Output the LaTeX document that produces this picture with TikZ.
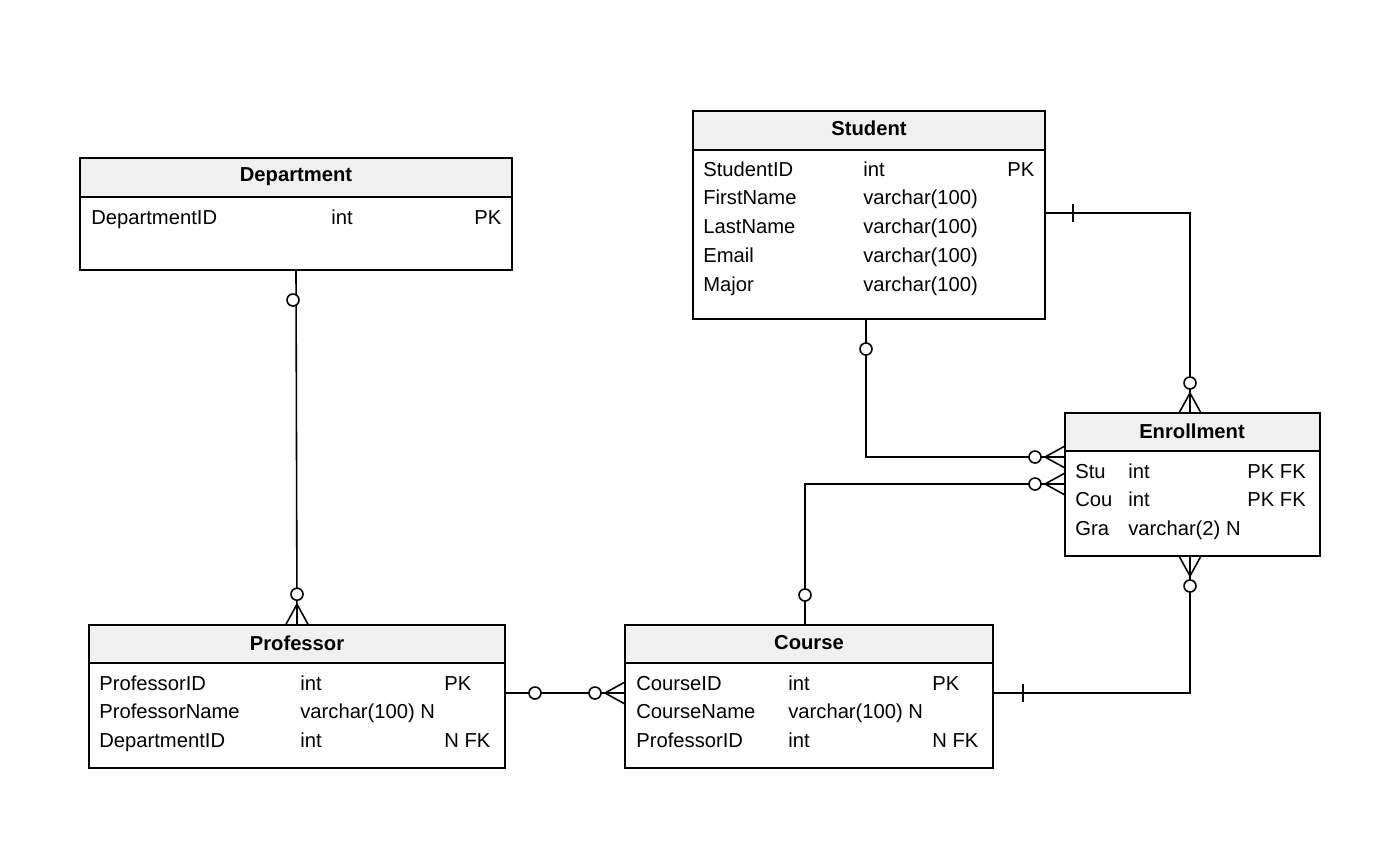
\documentclass[tikz,border=0pt]{standalone}
\usepackage{fontspec}
\setmainfont{Liberation Sans}
\usetikzlibrary{positioning}

\tikzset{
	tbl/.style={draw=black, fill=white, line width=0.9pt, inner sep=0pt},
	hdr/.style={draw=black, fill=gray!12, line width=0.9pt},
	ttl/.style={font=\fontsize{11.5}{13}\selectfont\bfseries},
	cell/.style={anchor=base west, inner sep=0pt, font=\fontsize{11.5}{13}\selectfont},
	link/.style={line width=0.9pt},
	pics/crow/.style={code={
		\draw[link] (0,-20) -- (-11,0) (0,-20) -- (0,0) (0,-20) -- (11,0);
		\draw[link, fill=white] (0,-30) circle (6);
	}},
	pics/ring/.style={code={\draw[link, fill=white] (0,0) circle (6);}},
	pics/bar/.style={code={\draw[link] (0,-9) -- (0,9);}}
}

\begin{document}
\begin{tikzpicture}[x=0.02cm, y=-0.02cm]
			\useasboundingbox (0,0) rectangle (1392,846);
			% Tables
			\node[tbl, minimum width=432*0.02cm, minimum height=112*0.02cm] (dept) at (296,214) {};
			\draw[hdr] (80,158) rectangle (512,197);
			\node[ttl] at (296,177) {Department};
			\node[cell] at (91,224) {DepartmentID};
			\node[cell] at (331,224) {int};
			\node[cell] at (474,224) {PK};

			\node[tbl, minimum width=352*0.02cm, minimum height=208*0.02cm] (stud) at (869,215) {};
			\draw[hdr] (693,111) rectangle (1045,150);
			\node[ttl] at (869,128) {Student};
			\foreach \n/\t/\k [count=\i from 0] in {StudentID/int/PK, FirstName/varchar(100)/N, LastName/varchar(100)/N, Email/varchar(100)/N, Major/varchar(100)/N}{
				\node[cell] at (703,176+28.8*\i) {\n};
				\node[cell] at (863,176+28.8*\i) {\t};
			}
			\node[cell] at (1007,176) {PK};

			\node[tbl, minimum width=255*0.02cm, minimum height=143*0.02cm] (enr) at (1192.5,484.5) {};
			\draw[hdr] (1065,413) rectangle (1320,451);
			\node[ttl] at (1192,431) {Enrollment};
			\node[cell] at (1075,478) {Stu};
			\node[cell] at (1128,478) {int};
			\node[cell] at (1247,478) {PK FK};
			\node[cell] at (1075,506) {Cou};
			\node[cell] at (1128,506) {int};
			\node[cell] at (1247,506) {PK FK};
			\node[cell] at (1075,535) {Gra};
			\node[cell] at (1128,535) {varchar(2) N};

			\node[tbl, minimum width=416*0.02cm, minimum height=143*0.02cm] (prof) at (297,696.5) {};
			\draw[hdr] (89,625) rectangle (505,663);
			\node[ttl] at (297,643) {Professor};
			\foreach \n/\t/\k [count=\i from 0] in {ProfessorID/int/PK, ProfessorName/varchar(100) N/, DepartmentID/int/N FK}{
				\node[cell] at (99,690+28.7*\i) {\n};
				\node[cell] at (300,690+28.7*\i) {\t};
				\node[cell] at (444,690+28.7*\i) {\k};
			}

			\node[tbl, minimum width=368*0.02cm, minimum height=143*0.02cm] (crs) at (809,696.5) {};
			\draw[hdr] (625,625) rectangle (993,663);
			\node[ttl] at (809,643) {Course};
			\foreach \n/\t/\k [count=\i from 0] in {CourseID/int/PK, CourseName/varchar(100) N/, ProfessorID/int/N FK}{
				\node[cell] at (636,690+28.7*\i) {\n};
				\node[cell] at (788,690+28.7*\i) {\t};
				\node[cell] at (932,690+28.7*\i) {\k};
			}

			% Anchor points
			\coordinate (studB) at (866,319);
			\coordinate (studR) at (1045,213);
			\coordinate (enrT) at (1190,413);
			\coordinate (enrB) at (1190,556);
			\coordinate (enrL1) at (1065,457);
			\coordinate (enrL2) at (1065,484);
			\coordinate (crsT) at (805,625);
			\coordinate (crsR) at (993,693);
			\coordinate (crsL) at (625,693);
			\coordinate (profR) at (505,693);

			% Relationships
			\draw[link] (dept.south) -- (prof.north);
			\draw[link] (studB) |- (enrL1);
			\draw[link] (studR) -| (enrT);
			\draw[link] (crsT) |- (enrL2);
			\draw[link] (enrB) |- (crsR);
			\draw[link] (profR) -- (crsL);

			% End marks
			\pic at (293,300) {ring};
			\pic at (prof.north) {crow};
			\pic at (866,349) {ring};
			\pic[rotate=90] at (enrL1) {crow};
			\pic at (1073,213) {bar};
			\pic at (enrT) {crow};
			\pic at (805,595) {ring};
			\pic[rotate=90] at (enrL2) {crow};
			\pic[rotate=180] at (enrB) {crow};
			\pic at (1023,693) {bar};
			\pic at (535,693) {ring};
			\pic[rotate=90] at (crsL) {crow};
		\end{tikzpicture}
\end{document}
